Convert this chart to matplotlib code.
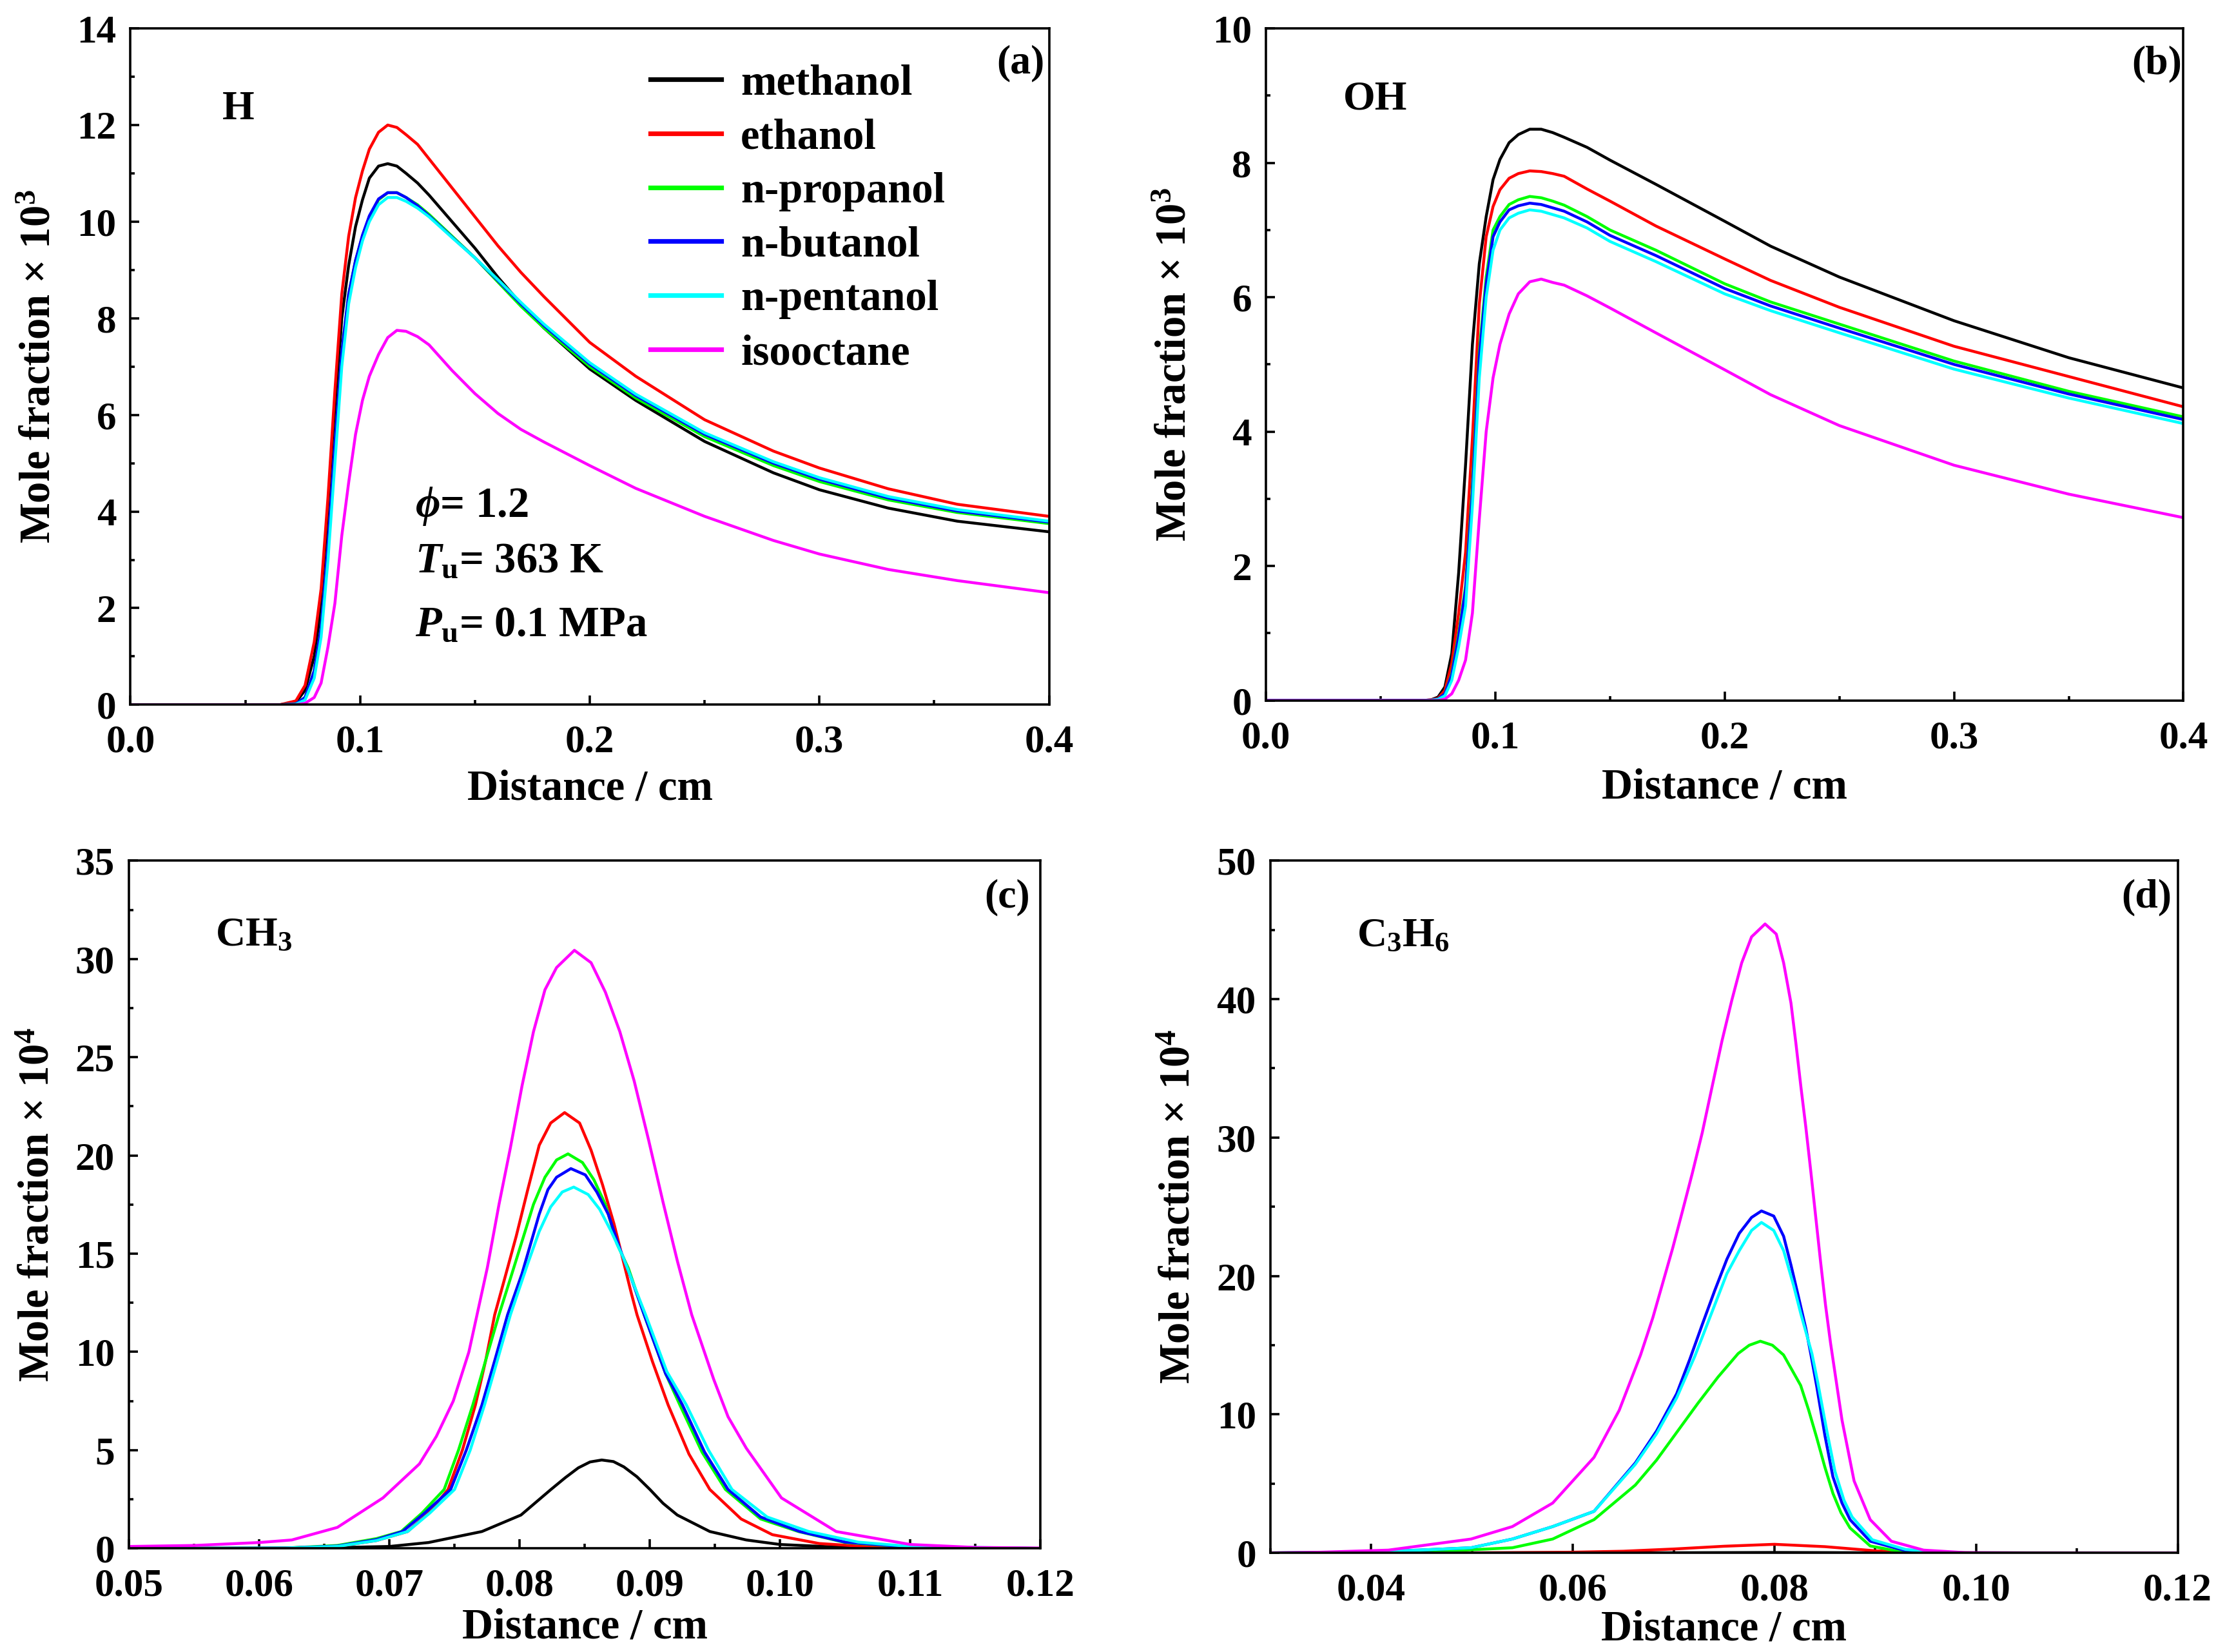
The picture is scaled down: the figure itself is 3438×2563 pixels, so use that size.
import numpy as np
import matplotlib
matplotlib.use('Agg')
import matplotlib.pyplot as plt
from matplotlib.ticker import MultipleLocator, FormatStrFormatter

plt.rcParams['font.family'] = ['Liberation Serif', 'DejaVu Serif']
plt.rcParams['font.weight'] = 'bold'
plt.rcParams['axes.labelweight'] = 'bold'
plt.rcParams['mathtext.fontset'] = 'custom'
plt.rcParams['mathtext.rm'] = 'Liberation Serif:bold'
plt.rcParams['mathtext.it'] = 'Liberation Serif:italic:bold'
plt.rcParams['mathtext.bf'] = 'Liberation Serif:bold'
plt.rcParams['mathtext.default'] = 'rm'

fuels = ['methanol', 'ethanol', 'n-propanol', 'n-butanol', 'n-pentanol', 'isooctane']

# (a) H, fraccion molar x 10^3
xa = [0.0, 0.065, 0.072, 0.076, 0.080, 0.083, 0.086, 0.089, 0.092, 0.095, 0.098, 0.101, 0.104, 0.108,
      0.112, 0.116, 0.120, 0.125, 0.130, 0.140, 0.150, 0.160, 0.170, 0.180, 0.200, 0.220, 0.250, 0.280,
      0.300, 0.330, 0.360, 0.400]
h_methanol = [0, 0, 0.05, 0.3, 1.0, 2.0, 3.8, 6.0, 8.0, 9.1, 9.9, 10.45, 10.9, 11.15, 11.2, 11.15, 11.0,
              10.8, 10.55, 10.0, 9.45, 8.85, 8.3, 7.8, 6.95, 6.3, 5.45, 4.8, 4.45, 4.07, 3.8, 3.58]
h_ethanol = [0, 0, 0.08, 0.4, 1.3, 2.4, 4.3, 6.5, 8.5, 9.7, 10.5, 11.05, 11.5, 11.85, 12.0, 11.95, 11.8,
             11.6, 11.3, 10.7, 10.1, 9.5, 8.95, 8.45, 7.5, 6.8, 5.9, 5.25, 4.9, 4.47, 4.15, 3.9]
h_propanol = [0, 0, 0.02, 0.15, 0.7, 1.6, 3.3, 5.4, 7.3, 8.5, 9.2, 9.7, 10.1, 10.45, 10.6, 10.6, 10.5,
              10.35, 10.15, 9.7, 9.25, 8.75, 8.25, 7.8, 7.0, 6.35, 5.55, 4.95, 4.62, 4.24, 3.98, 3.75]
h_butanol = [0, 0, 0.02, 0.15, 0.7, 1.6, 3.3, 5.4, 7.3, 8.5, 9.2, 9.72, 10.12, 10.47, 10.6, 10.6, 10.5,
             10.33, 10.12, 9.68, 9.25, 8.78, 8.3, 7.85, 7.05, 6.4, 5.6, 5.0, 4.67, 4.28, 4.01, 3.78]
h_pentanol = [0, 0, 0.01, 0.1, 0.55, 1.4, 3.0, 5.0, 7.0, 8.3, 9.05, 9.6, 10.0, 10.35, 10.5, 10.5, 10.42,
              10.28, 10.1, 9.67, 9.25, 8.8, 8.33, 7.88, 7.08, 6.43, 5.63, 5.03, 4.7, 4.31, 4.04, 3.8]
h_isooctane = [0, 0, 0, 0.03, 0.15, 0.45, 1.2, 2.1, 3.5, 4.6, 5.6, 6.3, 6.8, 7.25, 7.6, 7.75, 7.73,
               7.62, 7.45, 6.92, 6.44, 6.03, 5.7, 5.44, 4.95, 4.48, 3.9, 3.4, 3.12, 2.8, 2.57, 2.32]

# (b) OH, fraccion molar x 10^3
xb = [0.0, 0.068, 0.072, 0.075, 0.078, 0.081, 0.084, 0.087, 0.090, 0.093, 0.096, 0.099, 0.102, 0.106,
      0.110, 0.115, 0.120, 0.125, 0.130, 0.140, 0.150, 0.170, 0.200, 0.220, 0.250, 0.300, 0.350, 0.400]
oh_methanol = [0, 0, 0.01, 0.05, 0.2, 0.7, 1.9, 3.5, 5.3, 6.5, 7.2, 7.75, 8.05, 8.3, 8.42, 8.5, 8.5,
               8.45, 8.38, 8.23, 8.04, 7.68, 7.13, 6.76, 6.3, 5.65, 5.1, 4.65]
oh_ethanol = [0, 0, 0.01, 0.03, 0.15, 0.55, 1.3, 2.2, 3.9, 5.9, 6.9, 7.35, 7.6, 7.77, 7.84, 7.88, 7.87,
              7.84, 7.8, 7.61, 7.43, 7.06, 6.57, 6.25, 5.85, 5.27, 4.82, 4.37]
oh_propanol = [0, 0, 0.005, 0.02, 0.1, 0.4, 1.0, 1.7, 3.2, 5.2, 6.3, 7.0, 7.2, 7.38, 7.45, 7.5, 7.48,
               7.43, 7.37, 7.2, 7.0, 6.7, 6.2, 5.93, 5.6, 5.05, 4.6, 4.22]
oh_butanol = [0, 0, 0.005, 0.02, 0.1, 0.38, 0.95, 1.65, 3.1, 5.1, 6.2, 6.9, 7.12, 7.3, 7.36, 7.4, 7.38,
              7.33, 7.28, 7.12, 6.92, 6.62, 6.13, 5.87, 5.54, 5.0, 4.56, 4.18]
oh_pentanol = [0, 0, 0.003, 0.015, 0.07, 0.3, 0.8, 1.4, 2.9, 4.8, 6.0, 6.7, 7.0, 7.18, 7.25, 7.3, 7.28,
               7.23, 7.18, 7.03, 6.83, 6.53, 6.05, 5.8, 5.47, 4.93, 4.5, 4.12]
oh_isooctane = [0, 0, 0, 0, 0.02, 0.1, 0.3, 0.6, 1.3, 2.7, 4.0, 4.8, 5.3, 5.75, 6.05, 6.23, 6.27,
                6.22, 6.18, 6.02, 5.84, 5.47, 4.92, 4.55, 4.09, 3.5, 3.07, 2.72]

# (c) CH3, fraccion molar x 10^4
ch3_x_methanol = [0.05, 0.06, 0.065, 0.07, 0.073, 0.0771, 0.0801, 0.0824, 0.0835, 0.0845, 0.0854, 0.0863,
                  0.0872, 0.088, 0.089, 0.09, 0.091, 0.0921, 0.0946, 0.0974, 0.1, 0.105, 0.11, 0.12]
ch3_methanol = [0, 0, 0.03, 0.1, 0.3, 0.86, 1.7, 3.0, 3.6, 4.1, 4.4, 4.5, 4.42, 4.15, 3.65, 3.0, 2.3,
                1.7, 0.86, 0.43, 0.2, 0.05, 0.01, 0]
ch3_x_ethanol = [0.05, 0.062, 0.066, 0.069, 0.0714, 0.073, 0.0745, 0.0756, 0.0766, 0.0774, 0.07808,
                 0.07885, 0.07973, 0.08062, 0.0815, 0.08238, 0.08345, 0.0846, 0.08548, 0.08636, 0.08725,
                 0.08791, 0.08857, 0.08901, 0.0902, 0.0914, 0.093, 0.0946, 0.097, 0.0994, 0.103, 0.107,
                 0.112, 0.12]
ch3_ethanol = [0, 0.02, 0.1, 0.4, 0.86, 1.8, 3.0, 5.0, 7.3, 9.6, 11.89, 13.74, 15.88, 18.26, 20.52,
               21.65, 22.18, 21.65, 20.27, 18.51, 16.5, 14.75, 12.99, 11.89, 9.5, 7.3, 4.8, 3.0, 1.5,
               0.7, 0.25, 0.08, 0.02, 0]
ch3_x_propanol = [0.05, 0.062, 0.066, 0.069, 0.0709, 0.0725, 0.0742, 0.0753, 0.0764, 0.0774, 0.07841,
                  0.07929, 0.08018, 0.08106, 0.08194, 0.08283, 0.08371, 0.08482, 0.0857, 0.08658,
                  0.08747, 0.08835, 0.08956, 0.0912, 0.0923, 0.094, 0.0958, 0.0985, 0.1014, 0.105,
                  0.11, 0.12]
ch3_propanol = [0, 0.02, 0.15, 0.5, 0.86, 1.8, 3.0, 5.0, 7.3, 9.6, 11.89, 13.74, 15.63, 17.51, 18.89,
                19.77, 20.08, 19.64, 18.76, 17.51, 15.5, 14.25, 11.89, 8.9, 7.3, 4.9, 3.0, 1.5, 0.86,
                0.3, 0.06, 0]
ch3_x_butanol = [0.05, 0.062, 0.066, 0.069, 0.071, 0.0727, 0.0747, 0.0759, 0.0771, 0.0781, 0.07907,
                 0.08018, 0.08084, 0.0815, 0.08217, 0.08283, 0.08393, 0.08504, 0.08592, 0.0868, 0.08769,
                 0.08857, 0.08956, 0.0912, 0.0925, 0.0942, 0.096, 0.0985, 0.1015, 0.105, 0.11, 0.12]
ch3_butanol = [0, 0.02, 0.12, 0.45, 0.86, 1.8, 3.0, 5.0, 7.3, 9.6, 11.89, 13.99, 15.5, 17.01, 18.26,
               18.89, 19.33, 19.01, 18.14, 17.01, 15.25, 13.74, 11.89, 8.9, 7.3, 4.9, 3.0, 1.6, 0.86,
               0.32, 0.07, 0]
ch3_x_pentanol = [0.05, 0.062, 0.066, 0.069, 0.0714, 0.0731, 0.075, 0.0762, 0.0773, 0.0783, 0.07929,
                  0.08062, 0.0815, 0.08238, 0.08327, 0.08415, 0.08526, 0.08614, 0.08703, 0.08791,
                  0.08879, 0.08967, 0.0913, 0.0928, 0.0945, 0.0963, 0.099, 0.1022, 0.106, 0.11, 0.12]
ch3_pentanol = [0, 0.02, 0.1, 0.4, 0.86, 1.8, 3.0, 5.0, 7.3, 9.6, 11.89, 14.49, 16.13, 17.38, 18.14,
                18.39, 18.01, 17.26, 16.13, 14.87, 13.37, 11.89, 9.0, 7.3, 5.0, 3.0, 1.6, 0.86, 0.32,
                0.1, 0]
ch3_x_isooctane = [0.05, 0.055, 0.06, 0.0625, 0.066, 0.0695, 0.0723, 0.0736, 0.0749, 0.0761, 0.07752,
                   0.07841, 0.07929, 0.08018, 0.08106, 0.08194, 0.08283, 0.0842, 0.08548, 0.08658,
                   0.08769, 0.08879, 0.0899, 0.091, 0.09211, 0.09321, 0.0949, 0.096, 0.0974, 0.1001,
                   0.1043, 0.11, 0.115, 0.12]
ch3_isooctane = [0.1, 0.15, 0.3, 0.43, 1.07, 2.57, 4.3, 5.7, 7.5, 10.0, 14.3, 17.5, 20.4, 23.54, 26.3,
                 28.43, 29.56, 30.44, 29.81, 28.31, 26.3, 23.79, 20.78, 17.64, 14.62, 11.89, 8.6, 6.7,
                 5.1, 2.57, 0.86, 0.2, 0.05, 0.02]

# (d) C3H6, fraccion molar x 10^4
c3h6_x_methanol = [0.03, 0.07, 0.08, 0.09, 0.12]
c3h6_methanol = [0, 0.01, 0.03, 0.01, 0]
c3h6_x_ethanol = [0.03, 0.05, 0.06, 0.065, 0.07, 0.075, 0.08, 0.085, 0.09, 0.095, 0.1, 0.12]
c3h6_ethanol = [0, 0, 0.05, 0.12, 0.28, 0.48, 0.62, 0.45, 0.15, 0.03, 0, 0]
c3h6_x_propanol = [0.03, 0.045, 0.054, 0.058, 0.0621, 0.0662, 0.0683, 0.0703, 0.0724, 0.0744, 0.0764,
                   0.0775, 0.0786, 0.0798, 0.0809, 0.0826, 0.0834, 0.0842, 0.085, 0.0858, 0.0866, 0.0875,
                   0.0895, 0.0928, 0.097, 0.12]
c3h6_propanol = [0, 0.05, 0.37, 1.0, 2.4, 4.9, 6.7, 8.7, 10.8, 12.7, 14.4, 15.0, 15.29, 15.0, 14.3, 12.1,
                 10.3, 8.3, 6.2, 4.3, 2.9, 1.8, 0.5, 0.05, 0, 0]
c3h6_x_butanol = [0.03, 0.04, 0.0499, 0.054, 0.058, 0.0621, 0.0662, 0.0683, 0.0703, 0.07161, 0.07284,
                  0.07406, 0.07528, 0.07651, 0.07773, 0.07871, 0.07993, 0.08091, 0.08164, 0.08238,
                  0.08311, 0.0836, 0.0842, 0.085, 0.0858, 0.0867, 0.0875, 0.0895, 0.0928, 0.097, 0.12]
c3h6_butanol = [0, 0.05, 0.37, 1.0, 1.9, 3.0, 6.5, 8.8, 11.5, 14.0, 16.5, 18.92, 21.21, 23.08, 24.23,
                24.7, 24.33, 22.87, 20.79, 18.51, 16.22, 14.39, 12.0, 8.5, 5.5, 3.6, 2.4, 0.84, 0.2, 0, 0]
c3h6_x_pentanol = [0.03, 0.04, 0.0499, 0.054, 0.058, 0.0621, 0.0662, 0.0683, 0.0703, 0.0721, 0.07406,
                   0.07528, 0.07651, 0.07773, 0.07871, 0.07993, 0.08091, 0.08189, 0.08262, 0.08372,
                   0.0843, 0.0852, 0.086, 0.0869, 0.0877, 0.0897, 0.093, 0.097, 0.12]
c3h6_pentanol = [0, 0.05, 0.37, 1.0, 1.9, 3.0, 6.4, 8.6, 11.2, 14.2, 17.88, 20.17, 21.83, 23.29, 23.87,
                 23.29, 21.83, 19.34, 17.26, 14.39, 12.3, 8.8, 5.9, 3.8, 2.6, 0.95, 0.25, 0, 0]
c3h6_x_isooctane = [0.03, 0.035, 0.0417, 0.0499, 0.054, 0.058, 0.0621, 0.0646, 0.06672, 0.06794,
                    0.06892, 0.0699, 0.07088, 0.07186, 0.07284, 0.07382, 0.0748, 0.07577, 0.07675,
                    0.07773, 0.07907, 0.08018, 0.08091, 0.08164, 0.08213, 0.08262, 0.08311, 0.0836,
                    0.08409, 0.08458, 0.08507, 0.08556, 0.0867, 0.0879, 0.0895, 0.0916, 0.0948, 0.0989,
                    0.105, 0.12]
c3h6_isooctane = [0, 0.05, 0.2, 1.0, 1.9, 3.6, 6.9, 10.3, 14.3, 17.0, 19.5, 22.0, 24.7, 27.45,
                  30.36, 33.69, 37.0, 39.92, 42.62, 44.5, 45.43, 44.7, 42.62, 39.71, 36.8, 33.69, 30.77,
                  27.6, 24.3, 21.0, 17.88, 15.18, 9.6, 5.2, 2.4, 0.84, 0.2, 0.02, 0, 0]

colores = ['#000000', '#FF0000', '#00FF00', '#0000FF', '#00FFFF', '#FF00FF']


def formato_ejes(ax, xlim, ylim, xticks, xminor, ymajor, yminor, xfmt, ylabel, labelpad_x):
    ax.set_xlim(*xlim)
    ax.set_ylim(*ylim)
    ax.set_xticks(xticks)
    ax.xaxis.set_minor_locator(MultipleLocator(xminor))
    ax.yaxis.set_major_locator(MultipleLocator(ymajor))
    ax.yaxis.set_minor_locator(MultipleLocator(yminor))
    ax.xaxis.set_major_formatter(FormatStrFormatter(xfmt))
    ax.yaxis.set_major_formatter(FormatStrFormatter('%d'))
    ax.tick_params(which='both', direction='in', top=False, right=False, width=1.3)
    ax.tick_params(which='major', length=5, labelsize=22)
    ax.tick_params(which='minor', length=2.5)
    ax.tick_params(axis='x', which='major', pad=11)
    ax.tick_params(axis='y', which='major', pad=8)
    for s in ax.spines.values():
        s.set_linewidth(1.3)
    ax.set_xlabel('Distance / cm', fontsize=24, fontweight='bold', labelpad=labelpad_x)
    ax.set_ylabel(ylabel, fontsize=24, fontweight='bold', labelpad=10)


fig = plt.figure(figsize=(17.19, 12.815), dpi=200)
ax_a = fig.add_axes([0.0589, 0.5734, 0.4145, 0.4094])
ax_b = fig.add_axes([0.5713, 0.5760, 0.4140, 0.4068])
ax_c = fig.add_axes([0.0582, 0.0627, 0.4114, 0.4163])
ax_d = fig.add_axes([0.5733, 0.0600, 0.4094, 0.4190])

# (a)
for y, c, nombre in zip([h_methanol, h_ethanol, h_propanol, h_butanol, h_pentanol, h_isooctane],
                        colores, fuels):
    ax_a.plot(xa, y, color=c, lw=1.6, label=nombre)
formato_ejes(ax_a, (0, 0.4), (0, 14), np.linspace(0, 0.4, 5), 0.05, 2, 1, '%.1f',
             r'Mole fraction × $\mathregular{10^3}$', 5)
leg = ax_a.legend(loc='upper left', bbox_to_anchor=(0.566, 0.947), frameon=False, fontsize=24,
                  handlelength=1.65, handletextpad=0.45, labelspacing=0.34, borderpad=0,
                  borderaxespad=0)
for linea in leg.get_lines():
    linea.set_linewidth(2.6)
ax_a.text(0.117, 0.88, 'H', transform=ax_a.transAxes, fontsize=23, ha='center', va='center')
ax_a.text(0.969, 0.948, '(a)', transform=ax_a.transAxes, fontsize=23, ha='center', va='center')
ax_a.text(0.31, 0.293, r'$\mathit{\phi}$= 1.2', transform=ax_a.transAxes, fontsize=24, va='center')
ax_a.text(0.31, 0.212, r'$\mathit{T}_{\rm u}$= 363 K', transform=ax_a.transAxes, fontsize=24, va='center')
ax_a.text(0.31, 0.117, r'$\mathit{P}_{\rm u}$= 0.1 MPa', transform=ax_a.transAxes, fontsize=24,
          va='center')

# (b)
for y, c in zip([oh_methanol, oh_ethanol, oh_propanol, oh_butanol, oh_pentanol, oh_isooctane], colores):
    ax_b.plot(xb, y, color=c, lw=1.6)
formato_ejes(ax_b, (0, 0.4), (0, 10), np.linspace(0, 0.4, 5), 0.05, 2, 1, '%.1f',
             r'Mole fraction × $\mathregular{10^3}$', 6.5)
ax_b.text(0.119, 0.894, 'OH', transform=ax_b.transAxes, fontsize=23, ha='center', va='center')
ax_b.text(0.971, 0.947, '(b)', transform=ax_b.transAxes, fontsize=23, ha='center', va='center')

# (c)
ch3_x = [ch3_x_methanol, ch3_x_ethanol, ch3_x_propanol, ch3_x_butanol, ch3_x_pentanol, ch3_x_isooctane]
ch3_y = [ch3_methanol, ch3_ethanol, ch3_propanol, ch3_butanol, ch3_pentanol, ch3_isooctane]
for x, y, c in zip(ch3_x, ch3_y, colores):
    ax_c.plot(x, y, color=c, lw=1.6)
formato_ejes(ax_c, (0.05, 0.12), (0, 35), np.linspace(0.05, 0.12, 8), 0.005, 5, 2.5, '%.2f',
             r'Mole fraction × $\mathregular{10^4}$', 2)
ax_c.text(0.095, 0.89, r'CH$\mathregular{_3}$', transform=ax_c.transAxes, fontsize=23, va='center')
ax_c.text(0.963, 0.946, '(c)', transform=ax_c.transAxes, fontsize=23, ha='center', va='center')

# (d)
c3h6_x = [c3h6_x_methanol, c3h6_x_ethanol, c3h6_x_propanol, c3h6_x_butanol, c3h6_x_pentanol,
          c3h6_x_isooctane]
c3h6_y = [c3h6_methanol, c3h6_ethanol, c3h6_propanol, c3h6_butanol, c3h6_pentanol, c3h6_isooctane]
for x, y, c in zip(c3h6_x, c3h6_y, colores):
    ax_d.plot(x, y, color=c, lw=1.6)
formato_ejes(ax_d, (0.03, 0.12), (0, 50), np.linspace(0.04, 0.12, 5), 0.01, 10, 5, '%.2f',
             r'Mole fraction × $\mathregular{10^4}$', 0.5)
ax_d.text(0.095, 0.89, r'C$\mathregular{_3}$H$\mathregular{_6}$', transform=ax_d.transAxes, fontsize=23,
          va='center')
ax_d.text(0.966, 0.947, '(d)', transform=ax_d.transAxes, fontsize=23, ha='center', va='center')

fig.savefig('out.png', dpi=200)
